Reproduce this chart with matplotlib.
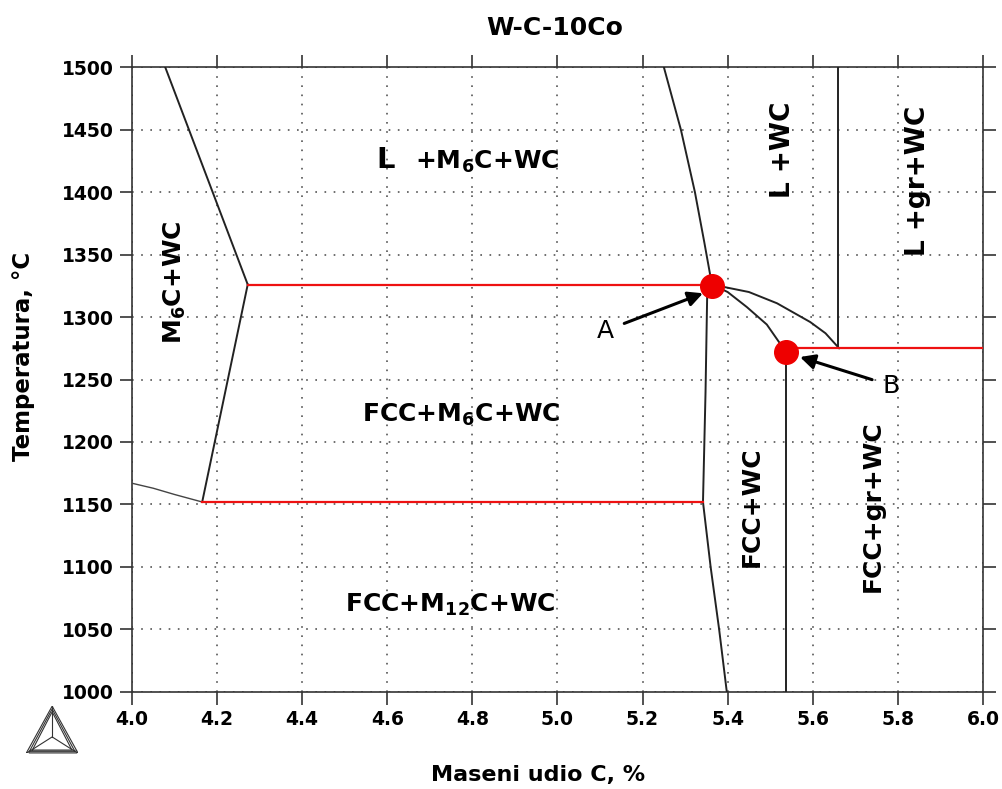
import matplotlib
matplotlib.use("Agg")
import matplotlib.pyplot as plt
from matplotlib.lines import Line2D

# boundary curves (mass % C, temperature C)
left_upper_x = [4.078, 4.272]
left_upper_t = [1500, 1326]
left_lower_x = [4.272, 4.165]
left_lower_t = [1326, 1152]
corner_x = [4.0, 4.05, 4.10, 4.165]
corner_t = [1167, 1163, 1158, 1152]
liq_x = [5.25, 5.29, 5.323, 5.345, 5.363]
liq_t = [1500, 1450, 1400, 1360, 1326]
mid_x = [5.352, 5.348, 5.342]
mid_t = [1320, 1240, 1152]
mid_low_x = [5.342, 5.36, 5.38, 5.398]
mid_low_t = [1152, 1100, 1050, 1000]
arc_up_x = [5.363, 5.45, 5.516, 5.594, 5.63, 5.662]
arc_up_t = [1326, 1320, 1311, 1296, 1287, 1275]
arc_lo_x = [5.363, 5.40, 5.445, 5.492, 5.537]
arc_lo_t = [1326, 1320, 1308, 1294, 1272]
vert_b_x = [5.537, 5.537]
vert_b_t = [1272, 1000]
vert_gr_x = [5.659, 5.659]
vert_gr_t = [1500, 1275]

# invariant (red) lines
red_x = [[4.272, 5.363], [4.165, 5.342], [5.537, 6.0]]
red_t = [[1326, 1326], [1152, 1152], [1275, 1275]]

points_x = [5.363, 5.537]
points_t = [1325, 1272]

x_ticks = [4.0, 4.2, 4.4, 4.6, 4.8, 5.0, 5.2, 5.4, 5.6, 5.8, 6.0]
t_ticks = [1000, 1050, 1100, 1150, 1200, 1250, 1300, 1350, 1400, 1450, 1500]

plt.rcParams["font.family"] = ["DejaVu Sans"]

fig = plt.figure(figsize=(10.03, 7.89), dpi=100)
ax = fig.add_axes([0.1316, 0.123, 0.8484, 0.792])

for xs, ts in [(left_upper_x, left_upper_t), (left_lower_x, left_lower_t),
               (liq_x, liq_t), (mid_x, mid_t), (mid_low_x, mid_low_t),
               (arc_up_x, arc_up_t), (arc_lo_x, arc_lo_t),
               (vert_b_x, vert_b_t), (vert_gr_x, vert_gr_t)]:
    ax.plot(xs, ts, color="#222222", lw=1.4, zorder=3)
ax.plot(corner_x, corner_t, color="#444444", lw=1.0, zorder=3)

for xs, ts in zip(red_x, red_t):
    ax.plot(xs, ts, color="#ee1111", lw=1.6, zorder=4)

ax.plot(points_x, points_t, "o", color="#ee0000", ms=17, zorder=5)

ax.annotate("A", xy=(5.342, 1319), xytext=(5.112, 1289),
            fontsize=18, ha="center", va="center",
            arrowprops=dict(arrowstyle="-|>", color="black", lw=2.2,
                            mutation_scale=22, shrinkA=6, shrinkB=0))
ax.annotate("B", xy=(5.57, 1268), xytext=(5.785, 1245),
            fontsize=18, ha="center", va="center",
            arrowprops=dict(arrowstyle="-|>", color="black", lw=2.2,
                            mutation_scale=22, shrinkA=6, shrinkB=0))

bold = dict(fontweight="bold", ha="center", va="center")
ax.text(4.595, 1426, "L", fontsize=21, **bold)
ax.text(4.835, 1424, r"+M$_\mathbf{6}$C+WC", fontsize=18, **bold)
ax.text(4.101, 1328, r"M$_\mathbf{6}$C+WC", fontsize=18, rotation=90, **bold)
ax.text(4.773, 1222, r"FCC+M$_\mathbf{6}$C+WC", fontsize=18, **bold)
ax.text(4.747, 1070, r"FCC+M$_\mathbf{12}$C+WC", fontsize=18, **bold)
ax.text(5.530, 1434, "L +WC", fontsize=19, rotation=90, **bold)
ax.text(5.847, 1409, "L +gr+WC", fontsize=19, rotation=90, **bold)
ax.text(5.457, 1148, "FCC+WC", fontsize=18, rotation=90, **bold)
ax.text(5.742, 1149, "FCC+gr+WC", fontsize=18, rotation=90, **bold)

ax.set_xlim(4.0, 6.0)
ax.set_ylim(1000, 1500)
ax.set_xticks(x_ticks)
ax.set_yticks(t_ticks)
ax.tick_params(direction="out", length=9, width=1.2, color="#333333",
               top=True, right=True, labelsize=13.5, pad=4)
for lab in ax.get_xticklabels() + ax.get_yticklabels():
    lab.set_fontweight("bold")
ax.grid(True, color="#555555", linestyle=(0, (1, 4.5)), lw=1.2)
for sp in ax.spines.values():
    sp.set_color("#333333")
    sp.set_linewidth(1.2)

fig.text(0.553, 1 - 28 / 789, "W-C-10Co", fontsize=18, fontweight="bold",
         ha="center", va="center")
fig.text(538 / 1003, 1 - 775 / 789, "Maseni udio C, %", fontsize=16,
         fontweight="bold", ha="center", va="center")
fig.text(24 / 1003, 1 - 356 / 789, "Temperatura, °C", fontsize=16.5,
         fontweight="bold", rotation=90, ha="center", va="center")

# Thermo-Calc style logo
logo = fig.add_axes([0.026, 0.045, 0.052, 0.06])
logo.set_xlim(0, 1)
logo.set_ylim(0, 1)
logo.axis("off")
for s in [0.0, 0.06, 0.12]:
    logo.add_line(Line2D([0.0 + s, 0.5, 1.0 - s, 0.0 + s],
                         [0.0 + s * 0.6, 1.0 - s, 0.0 + s * 0.6, 0.0 + s * 0.6],
                         color="#333333", lw=0.8))
logo.add_line(Line2D([0.5, 0.5], [1.0, 0.35], color="#333333", lw=0.8))
logo.add_line(Line2D([0.0, 0.5, 1.0], [0.0, 0.35, 0.0], color="#333333", lw=0.8))
logo.fill_between([0.05, 0.95], 0.0, 0.08, color="#999999")

fig.savefig("out.png", dpi=100)
